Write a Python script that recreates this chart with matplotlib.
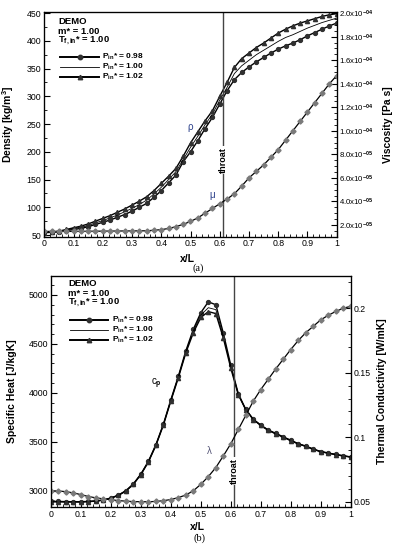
import numpy as np
import matplotlib
matplotlib.use("Agg")
import matplotlib.pyplot as plt
from matplotlib.ticker import MultipleLocator, AutoMinorLocator, FuncFormatter

plt.rcParams['font.family'] = ['Liberation Sans', 'DejaVu Sans']
plt.rcParams['mathtext.fontset'] = 'custom'
plt.rcParams['mathtext.rm'] = 'Liberation Sans:bold'
plt.rcParams['mathtext.it'] = 'Liberation Sans:bold'
plt.rcParams['mathtext.bf'] = 'Liberation Sans:bold'

# ---------------- data ----------------
x = [i * 0.025 for i in range(41)]

rho_098 = [55, 55, 56, 58, 60, 62, 65, 69, 73, 77, 82, 87, 93, 100, 107, 118, 130, 144, 158,
           182, 200, 220, 242, 262, 286, 310, 330, 343, 353, 362, 370, 378, 385, 391, 396,
           402, 409, 415, 421, 427, 432]
rho_100 = [55, 55, 56, 59, 62, 64, 67, 72, 76, 81, 86, 92, 98, 105, 113, 124, 136, 150, 164,
           186, 208, 228, 249, 268, 293, 316, 341, 355, 365, 375, 383, 391, 399, 406, 411,
           417, 423, 428, 433, 437, 441]
rho_102 = [54, 55, 57, 60, 63, 66, 70, 75, 80, 85, 91, 97, 104, 111, 119, 130, 143, 156, 170,
           192, 216, 236, 256, 274, 300, 325, 352, 368, 378, 388, 396, 405, 414, 421, 427,
           432, 436, 440, 444, 447, 449]
mu = [1.45e-5, 1.45e-5, 1.45e-5, 1.45e-5, 1.45e-5, 1.46e-5, 1.46e-5, 1.47e-5, 1.47e-5, 1.48e-5,
      1.48e-5, 1.49e-5, 1.49e-5, 1.5e-5, 1.5e-5, 1.55e-5, 1.6e-5, 1.7e-5, 1.85e-5, 2.05e-5,
      2.3e-5, 2.6e-5, 3.0e-5, 3.4e-5, 3.8e-5, 4.2e-5, 4.65e-5, 5.3e-5, 6.0e-5, 6.55e-5,
      7.1e-5, 7.75e-5, 8.4e-5, 9.2e-5, 1.0e-4, 1.08e-4, 1.16e-4, 1.24e-4, 1.32e-4, 1.40e-4,
      1.47e-4]

cp_098 = [2890, 2890, 2888, 2887, 2887, 2890, 2895, 2905, 2925, 2955, 3000, 3070, 3170, 3300,
          3470, 3680, 3930, 4170, 4430, 4650, 4820, 4930, 4900, 4610, 4280, 3990, 3830, 3730,
          3670, 3620, 3585, 3550, 3515, 3480, 3455, 3425, 3400, 3385, 3370, 3357, 3345]
cp_100 = [2888, 2888, 2887, 2886, 2886, 2889, 2894, 2904, 2924, 2954, 2998, 3068, 3168, 3297,
          3466, 3676, 3925, 4163, 4420, 4635, 4795, 4870, 4850, 4580, 4265, 3985, 3828, 3728,
          3668, 3618, 3583, 3548, 3513, 3479, 3454, 3424, 3399, 3384, 3369, 3356, 3344]
cp_102 = [2886, 2886, 2885, 2885, 2885, 2888, 2893, 2903, 2922, 2952, 2996, 3065, 3165, 3293,
          3462, 3670, 3918, 4155, 4410, 4615, 4770, 4830, 4810, 4560, 4250, 3980, 3826, 3726,
          3666, 3616, 3581, 3546, 3511, 3478, 3453, 3423, 3398, 3383, 3368, 3355, 3343]
lam = [0.0585, 0.0583, 0.0578, 0.0568, 0.0555, 0.054, 0.053, 0.0522, 0.0515, 0.0509, 0.0504,
       0.0501, 0.05, 0.05, 0.0502, 0.0508, 0.0517, 0.0532, 0.0552, 0.0585, 0.0635, 0.0695,
       0.0765, 0.0855, 0.095, 0.106, 0.117, 0.128, 0.137, 0.145, 0.153, 0.1605, 0.168, 0.175,
       0.181, 0.186, 0.191, 0.1945, 0.1975, 0.2, 0.2015]

throat_x = 0.612
p_labels = ["0.98", "1.00", "1.02"]

# ---------------- figure ----------------
W, H = 394, 550
fig = plt.figure(figsize=(W / 100, H / 100), dpi=100)

def fbox(l, t, r, b):
    return [l / W, 1 - b / H, (r - l) / W, (b - t) / H]

ax1 = fig.add_axes(fbox(44.3, 12, 336.7, 236.7))
ax2 = fig.add_axes(fbox(51, 276, 350.7, 507))

dark = '#303030'
mk_gray = '#7a7a7a'

def style_axes(ax):
    ax.tick_params(direction='in', which='both', top=False, right=False,
                   labelsize=6.3, pad=2)
    ax.tick_params(which='major', length=4, width=0.8)
    ax.tick_params(which='minor', length=2, width=0.6)
    for s in ax.spines.values():
        s.set_linewidth(0.9)

# ---- panel (a)
ax1b = ax1.twinx()
ax1.plot(x, rho_098, color='black', lw=1.0, marker='o', ms=2.8, mfc=dark, mec=dark)
ax1.plot(x, rho_100, color='black', lw=0.6)
ax1.plot(x, rho_102, color='black', lw=1.0, marker='^', ms=3.0, mfc=dark, mec=dark)
ax1b.plot(x, mu, color='black', lw=0.9, marker='D', ms=2.6, mfc=mk_gray, mec=mk_gray)
ax1.axvline(throat_x, color='#444444', lw=1.0)

ax1.set_xlim(0, 1)
ax1.set_ylim(47, 452)
ax1b.set_ylim(1.0e-5, 2.01e-4)
ax1.xaxis.set_major_locator(MultipleLocator(0.1))
ax1.xaxis.set_minor_locator(AutoMinorLocator(5))
ax1.xaxis.set_major_formatter(FuncFormatter(lambda v, p: '0' if abs(v) < 1e-9 else ('1' if abs(v - 1) < 1e-9 else f'{v:.1f}')))
ax1.yaxis.set_major_locator(MultipleLocator(50))
ax1.yaxis.set_minor_locator(AutoMinorLocator(2))
ax1b.yaxis.set_major_locator(MultipleLocator(2e-5))
ax1b.yaxis.set_minor_locator(AutoMinorLocator(4))

def sci_fmt(v, p):
    if v <= 0:
        return ''
    e = int(np.floor(np.log10(v) + 1e-9))
    m = v / 10 ** e
    return f'{m:.1f}x10$^{{-{abs(e):02d}}}$'

ax1b.yaxis.set_major_formatter(FuncFormatter(sci_fmt))
style_axes(ax1)
ax1b.tick_params(direction='in', which='both', labelsize=5.6, pad=2)
ax1b.tick_params(which='major', length=4, width=0.8)
ax1b.tick_params(which='minor', length=2, width=0.6)

ax1.set_ylabel('Density [kg/m$^3$]', fontsize=7.5, fontweight='bold')
ax1.yaxis.set_label_coords(-0.097, 0.5)
ax1b.set_ylabel('Viscosity [Pa s]', fontsize=7.5, fontweight='bold')
ax1b.yaxis.set_label_coords(1.158, 0.5)
ax1.set_xlabel('x/L', fontsize=7.5, fontweight='bold')
ax1.xaxis.set_label_coords(0.49, -0.075)

ax1.text(0.5, 245, 'ρ', color='#2a3f8a', fontsize=7, ha='center', va='center')
ax1.text(0.575, 122, 'μ', color='#2a3f8a', fontsize=7, ha='center', va='center')
ax1.text(throat_x, 185, 'throat', rotation=90, fontsize=6.5, fontweight='bold',
         ha='center', va='center', bbox=dict(fc='white', ec='none', pad=0.6))

# legend / header
def header(ax, x0, ys, xl0, xl1, xt, yl):
    ax.text(x0, ys[0], 'DEMO', transform=ax.transAxes, fontsize=6.8, fontweight='bold', va='center')
    ax.text(x0, ys[1], 'm* = 1.00', transform=ax.transAxes, fontsize=6.8, fontweight='bold', va='center')
    ax.text(x0, ys[2], 'T$_{\\rm f,in}$* = 1.00', transform=ax.transAxes, fontsize=6.8,
            fontweight='bold', va='center')
    specs = [dict(lw=1.4, marker='o'), dict(lw=0.6, marker=None), dict(lw=1.4, marker='^')]
    for lab, sp, yy in zip(p_labels, specs, yl):
        ax.plot([xl0, xl1], [yy, yy], transform=ax.transAxes, color='black', lw=sp['lw'],
                clip_on=False)
        if sp['marker']:
            ax.plot([(xl0 + xl1) / 2], [yy], transform=ax.transAxes, marker=sp['marker'],
                    ms=3.2, color=dark, clip_on=False)
        ax.text(xt, yy, 'P$_{\\rm in}$* = ' + lab, transform=ax.transAxes, fontsize=6.0,
                fontweight='bold', va='center')

def ax_frac(ax_l, ax_t, ax_r, ax_b, px, py):
    return (px - ax_l) / (ax_r - ax_l), (ax_b - py) / (ax_b - ax_t)

def hdr(ax, box, x0p, ysp, xl0p, xl1p, xtp, ylp):
    l, t, r, b = box
    x0 = ax_frac(l, t, r, b, x0p, 0)[0]
    ys = [ax_frac(l, t, r, b, 0, py)[1] for py in ysp]
    xl0 = ax_frac(l, t, r, b, xl0p, 0)[0]
    xl1 = ax_frac(l, t, r, b, xl1p, 0)[0]
    xt = ax_frac(l, t, r, b, xtp, 0)[0]
    yl = [ax_frac(l, t, r, b, 0, py)[1] for py in ylp]
    header(ax, x0, ys, xl0, xl1, xt, yl)

hdr(ax1, (44.3, 12, 336.7, 236.7), 58, (21, 31, 41), 60, 99, 102, (57, 67, 77))

# ---- panel (b)
ax2b = ax2.twinx()
ax2.plot(x, cp_098, color='black', lw=1.0, marker='o', ms=2.8, mfc=dark, mec=dark)
ax2.plot(x, cp_100, color='black', lw=0.6)
ax2.plot(x, cp_102, color='black', lw=1.0, marker='^', ms=3.0, mfc=dark, mec=dark)
ax2b.plot(x, lam, color='black', lw=0.9, marker='D', ms=2.6, mfc=mk_gray, mec=mk_gray)
ax2.axvline(throat_x, color='#444444', lw=1.0)

ax2.set_xlim(0, 1)
ax2.set_ylim(2833, 5194)
ax2b.set_ylim(0.0459, 0.225)
ax2.xaxis.set_major_locator(MultipleLocator(0.1))
ax2.xaxis.set_minor_locator(AutoMinorLocator(5))
ax2.xaxis.set_major_formatter(FuncFormatter(lambda v, p: '0' if abs(v) < 1e-9 else ('1' if abs(v - 1) < 1e-9 else f'{v:.1f}')))
ax2.yaxis.set_major_locator(MultipleLocator(500))
ax2.yaxis.set_minor_locator(AutoMinorLocator(5))
ax2b.yaxis.set_major_locator(MultipleLocator(0.05))
ax2b.yaxis.set_minor_locator(AutoMinorLocator(5))
ax2b.yaxis.set_major_formatter(FuncFormatter(lambda v, p: f'{v:g}'))
style_axes(ax2)
ax2b.tick_params(direction='in', which='both', labelsize=6.3, pad=2)
ax2b.tick_params(which='major', length=4, width=0.8)
ax2b.tick_params(which='minor', length=2, width=0.6)

ax2.set_ylabel('Specific Heat [J/kgK]', fontsize=7.5, fontweight='bold')
ax2.yaxis.set_label_coords(-0.113, 0.5)
ax2b.set_ylabel('Thermal Conductivity [W/mK]', fontsize=7.5, fontweight='bold')
ax2b.yaxis.set_label_coords(1.087, 0.5)
ax2.set_xlabel('x/L', fontsize=7.5, fontweight='bold')
ax2.xaxis.set_label_coords(0.49, -0.064)

ax2.text(0.352, 4090, 'c$_{\\rm p}$', color='black', fontsize=7, ha='center', va='center')
ax2.text(0.53, 3405, 'λ', color='#555577', fontsize=7, ha='center', va='center')
ax2.text(throat_x, 3200, 'throat', rotation=90, fontsize=6.5, fontweight='bold',
         ha='center', va='center', bbox=dict(fc='white', ec='none', pad=0.6))

hdr(ax2, (51, 276, 350.7, 507), 68, (283, 293, 303), 70, 108, 112, (320, 330, 340))

fig.text(198 / W, 1 - 268 / H, '(a)', fontsize=7.5, ha='center', va='center',
         family=['Liberation Serif', 'DejaVu Serif'])
fig.text(200 / W, 1 - 538 / H, '(b)', fontsize=7.5, ha='center', va='center',
         family=['Liberation Serif', 'DejaVu Serif'])

fig.savefig('out.png', dpi=100)
